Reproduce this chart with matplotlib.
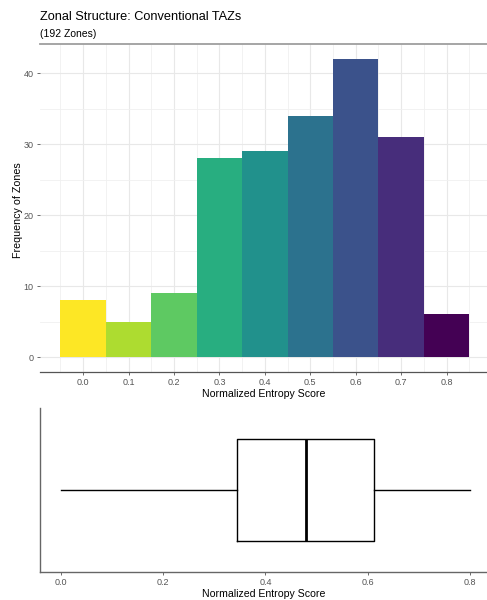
import numpy as np
import matplotlib
matplotlib.use('Agg')
import matplotlib.pyplot as plt
from matplotlib.ticker import MultipleLocator

plt.rcParams['font.family'] = ['Liberation Sans', 'DejaVu Sans']

# histogram of normalized entropy (bins of width 0.1)
bin_centers = [0.0, 0.1, 0.2, 0.3, 0.4, 0.5, 0.6, 0.7, 0.8]
zone_counts = [8, 5, 9, 28, 29, 34, 42, 31, 6]
x_ticks_hist = [0.0, 0.1, 0.2, 0.3, 0.4, 0.5, 0.6, 0.7, 0.8]
y_ticks_hist = [0, 10, 20, 30, 40]

# boxplot summary of the same scores
box_min = 0.0
box_q1 = 0.345
box_median = 0.48
box_q3 = 0.612
box_max = 0.80
x_ticks_box = [0.0, 0.2, 0.4, 0.6, 0.8]

title = 'Zonal Structure: Conventional TAZs'
subtitle = '(192 Zones)'
x_label = 'Normalized Entropy Score'
y_label = 'Frequency of Zones'

W, H = 487, 600
fig = plt.figure(figsize=(W / 100, H / 100), dpi=100)


def px_axes(left, top, right, bottom):
    return fig.add_axes([left / W, 1 - bottom / H, (right - left) / W, (bottom - top) / H])


tick_grey = '#555555'

# ---- histogram panel
ax = px_axes(40, 44, 487, 372)
colors = plt.get_cmap('viridis', len(bin_centers))(np.arange(len(bin_centers)))[::-1]
ax.bar(bin_centers, zone_counts, width=0.1, color=colors, edgecolor='none', zorder=2)
ax.set_xlim(-0.095, 0.889)
ax.set_ylim(-2.1, 44.1)
ax.set_xticks(x_ticks_hist)
ax.set_xticklabels(['%.1f' % v for v in x_ticks_hist])
ax.set_yticks(y_ticks_hist)
ax.xaxis.set_minor_locator(MultipleLocator(0.05))
ax.yaxis.set_minor_locator(MultipleLocator(5))
ax.grid(which='major', color='#e8e8e8', lw=0.8, zorder=0)
ax.grid(which='minor', color='#f0f0f0', lw=0.6, zorder=0)
ax.set_axisbelow(True)
ax.tick_params(which='minor', length=0)
ax.tick_params(which='major', length=2.5, width=0.6, color='#555555',
               labelsize=6.5, labelcolor=tick_grey, pad=2)
for s in ['left', 'right']:
    ax.spines[s].set_visible(False)
ax.spines['top'].set_color('#9e9e9e')
ax.spines['top'].set_linewidth(1.3)
ax.spines['bottom'].set_color('#555555')
ax.spines['bottom'].set_linewidth(0.9)
ax.set_xlabel(x_label, fontsize=7.6, labelpad=1)
fig.text(18 / W, 1 - 210 / H, y_label, rotation=90, fontsize=7.7,
         ha='center', va='center')

fig.text(40 / W, 1 - 17 / H, title, fontsize=9.2, ha='left', va='center')
fig.text(40 / W, 1 - 34 / H, subtitle, fontsize=7.5, ha='left', va='center')

# ---- boxplot panel
bx = px_axes(40, 408, 487, 572)
stats = [{'whislo': box_min, 'q1': box_q1, 'med': box_median,
          'q3': box_q3, 'whishi': box_max, 'fliers': []}]
bx.bxp(stats, positions=[0], widths=1.25, vert=False, showcaps=False,
       boxprops=dict(color='black', lw=1.0),
       whiskerprops=dict(color='black', lw=1.0),
       medianprops=dict(color='black', lw=2.0))
bx.set_ylim(-1, 1)
bx.set_xlim(-0.0405, 0.833)
bx.set_yticks([])
bx.set_xticks(x_ticks_box)
bx.set_xticklabels(['%.1f' % v for v in x_ticks_box])
bx.tick_params(length=2.5, width=0.6, color='#555555',
               labelsize=6.5, labelcolor=tick_grey, pad=2)
for s in ['top', 'right']:
    bx.spines[s].set_visible(False)
for s in ['left', 'bottom']:
    bx.spines[s].set_color('#666666')
    bx.spines[s].set_linewidth(1.0)
bx.set_xlabel(x_label, fontsize=7.6, labelpad=1)

fig.savefig('out.png', dpi=100)
